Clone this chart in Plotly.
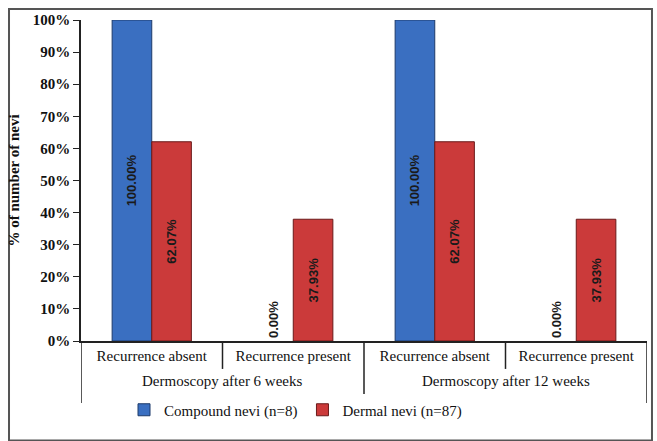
import plotly.graph_objects as go

# Chart data
group_labels = ["Dermoscopy after 6 weeks", "Dermoscopy after 12 weeks"]
outcomes = ["Recurrence absent", "Recurrence present",
            "Recurrence absent", "Recurrence present"]
compound_pct = [100.00, 0.00, 100.00, 0.00]
dermal_pct = [62.07, 37.93, 62.07, 37.93]
series_names = ["Compound nevi (n=8)", "Dermal nevi (n=87)"]
y_ticks = [0, 10, 20, 30, 40, 50, 60, 70, 80, 90, 100]

SERIF = "Liberation Serif, serif"
LABEL_FONT = dict(family="Liberation Sans", size=13, color="#1a1a1a")
AXIS_COLOR = "#222"

x_pos = list(range(len(outcomes)))


def labels(vals):
    return [f"<b>{v:.2f}%</b>" for v in vals]


def positions(vals):
    return ["inside" if v > 0 else "outside" for v in vals]


def outline_widths(vals):
    return [1 if v > 0 else 0 for v in vals]


fig = go.Figure()
for vals, name, fill, edge in [
    (compound_pct, series_names[0], "#3a6fc1", "#1d3a6a"),
    (dermal_pct, series_names[1], "#cb3a3a", "#6a1a1a"),
]:
    fig.add_trace(go.Bar(
        x=x_pos, y=vals, name=name,
        marker=dict(color=fill, line=dict(color=edge, width=outline_widths(vals))),
        text=labels(vals), textposition=positions(vals),
        textangle=-90, insidetextanchor="middle",
        textfont=LABEL_FONT, outsidetextfont=LABEL_FONT, insidetextfont=LABEL_FONT,
        cliponaxis=False,
    ))

# Two-level category axis: outcome labels as ticks, period labels below,
# with divider lines at the category boundaries.
annotations = []
for i, g in enumerate(group_labels):
    annotations.append(dict(
        x=2 * i + 0.5, xref="x", y=-0.1246, yref="paper",
        text=g, showarrow=False, xanchor="center", yanchor="middle",
        font=dict(family=SERIF, size=15, color="#111"),
    ))

shapes = []
for b in [-0.5, 0.5, 1.5, 2.5, 3.5]:
    outer = b in (-0.5, 1.5, 3.5)
    shapes.append(dict(
        type="line", xref="x", yref="paper", x0=b, x1=b,
        y0=0, y1=-0.193 if outer else -0.087,
        line=dict(color=AXIS_COLOR, width=1.5),
    ))
# Frame around the whole chart
shapes.append(dict(type="rect", xref="paper", yref="paper",
                   x0=-0.1272, x1=1.0088, y0=-0.31, y1=1.0343,
                   line=dict(color="#555", width=2), layer="below"))

fig.update_layout(
    width=657, height=441,
    margin=dict(l=81, r=10, t=20, b=100),
    paper_bgcolor="white", plot_bgcolor="white",
    barmode="group", bargap=0.44, bargroupgap=0,
    legend=dict(orientation="h", x=0.379, xanchor="center", y=-0.215, yanchor="middle",
                font=dict(family=SERIF, size=15, color="#111"),
                itemwidth=30, traceorder="normal"),
    xaxis=dict(
        range=[-0.5, 3.5], tickvals=x_pos, ticktext=outcomes,
        showline=True, linecolor=AXIS_COLOR, linewidth=1.5,
        ticks="", showgrid=False, zeroline=False,
        tickfont=dict(family=SERIF, size=15, color="#111"),
    ),
    yaxis=dict(
        range=[0, 100], tickvals=y_ticks,
        ticktext=[f"<b>{t}%</b>" for t in y_ticks],
        showline=True, linecolor=AXIS_COLOR, linewidth=1.5,
        ticks="outside", ticklen=6, tickcolor=AXIS_COLOR,
        showgrid=False, zeroline=False,
        tickfont=dict(family=SERIF, size=15, color="#111"),
        title=dict(text="<b>% of number of nevi</b>", standoff=10,
                   font=dict(family=SERIF, size=15, color="#111")),
    ),
    annotations=annotations,
    shapes=shapes,
)

fig.write_html("out.html")
